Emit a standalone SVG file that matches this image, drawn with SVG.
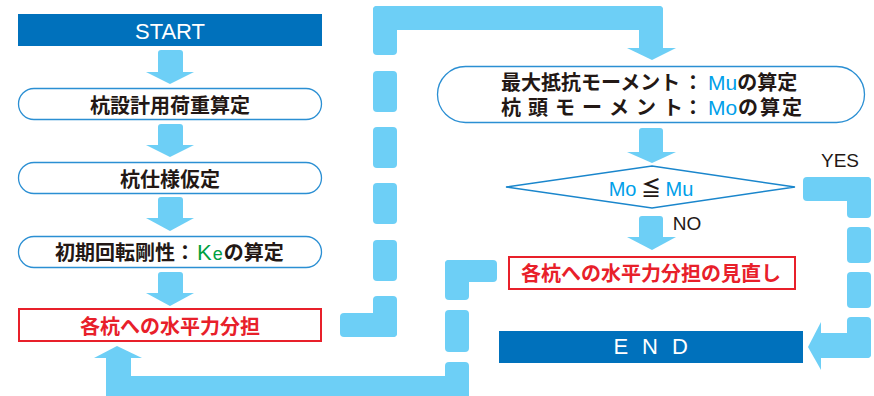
<svg xmlns="http://www.w3.org/2000/svg" width="874" height="396" viewBox="0 0 874 396">
<defs>
<style>
.lb{fill:#6dcff6}
.pill{fill:#fff;stroke:#2b8fd3;stroke-width:1.3}
.red{fill:#fff;stroke:#e8202a;stroke-width:2}
.bar{fill:#0071bc}
.jp{font-family:"Noto Sans CJK JP","Noto Sans",sans-serif;font-size:20px;font-weight:700;fill:#231815}
.rt{fill:#e8202a}
.lat{font-family:"Liberation Sans",Arial,sans-serif;font-weight:400}
.cy{fill:#00a0e9}
.gr{fill:#00a040}
.wt{font-family:"Liberation Sans",Arial,sans-serif;fill:#fff;font-size:22px}
.lab{font-family:"Liberation Sans",Arial,sans-serif;fill:#231815;font-size:19px}
</style>
</defs>
<rect width="874" height="396" fill="#fff"/>

<g id="connectors">
  <!-- left column down arrows -->
  <rect class="lb" x="158" y="50" width="25" height="26" rx="3"/>
  <polygon class="lb" points="146,72 194,72 170,84"/>
  <rect class="lb" x="158" y="124" width="25" height="25" rx="3"/>
  <polygon class="lb" points="146,145 194,145 170,157"/>
  <rect class="lb" x="158" y="197" width="25" height="25" rx="3"/>
  <polygon class="lb" points="146,218 194,218 170,231"/>
  <rect class="lb" x="158" y="272" width="25" height="25" rx="3"/>
  <polygon class="lb" points="146,293 194,293 170,306"/>

  <!-- dashed loop from 各杭への水平力分担 to top box -->
  <rect class="lb" x="373" y="6" width="24" height="49" rx="4"/>
  <rect class="lb" x="373" y="6" width="290" height="24" rx="4"/>
  <rect class="lb" x="639" y="6" width="24" height="46" rx="4"/>
  <polygon class="lb" points="627,48 676,48 652,60"/>
  <rect class="lb" x="373" y="71" width="24" height="41" rx="4"/>
  <rect class="lb" x="373" y="127" width="24" height="41" rx="4"/>
  <rect class="lb" x="373" y="183" width="24" height="41" rx="4"/>
  <rect class="lb" x="373" y="240" width="24" height="41" rx="4"/>
  <rect class="lb" x="373" y="296" width="24" height="41" rx="4"/>
  <rect class="lb" x="340" y="313" width="57" height="24" rx="4"/>

  <!-- right column down arrows -->
  <rect class="lb" x="639" y="128" width="24" height="28" rx="3"/>
  <polygon class="lb" points="627,152 676,152 652,163"/>
  <rect class="lb" x="639" y="216" width="24" height="25" rx="3"/>
  <polygon class="lb" points="627,237 676,237 652,250"/>

  <!-- YES path to END -->
  <rect class="lb" x="803" y="177" width="68" height="24" rx="4"/>
  <rect class="lb" x="847" y="177" width="24" height="41" rx="4"/>
  <rect class="lb" x="847" y="227" width="24" height="36" rx="4"/>
  <rect class="lb" x="847" y="272" width="24" height="36" rx="4"/>
  <rect class="lb" x="847" y="317" width="24" height="41" rx="4"/>
  <rect class="lb" x="816" y="333" width="55" height="25" rx="4"/>
  <polygon class="lb" points="821,322 808,347 821,370"/>

  <!-- NO path back to 各杭への水平力分担 -->
  <rect class="lb" x="445" y="260" width="52" height="22" rx="4"/>
  <rect class="lb" x="445" y="260" width="24" height="40" rx="4"/>
  <rect class="lb" x="445" y="310" width="24" height="42" rx="4"/>
  <rect class="lb" x="445" y="362" width="24" height="40" rx="4"/>
  <rect class="lb" x="106" y="376" width="363" height="26"/>
  <rect class="lb" x="106" y="356" width="25" height="40"/>
  <polygon class="lb" points="94,358 117,346 142,358"/>
</g>

<g id="start">
  <rect class="bar" x="18" y="14" width="304" height="32"/>
  <text class="wt" x="170" y="39" text-anchor="middle">START</text>
</g>

<g id="load">
  <rect class="pill" x="18.5" y="88.5" width="303" height="31" rx="15.5"/>
  <text class="jp" x="170" y="113" text-anchor="middle">杭設計用荷重算定</text>
</g>

<g id="spec">
  <rect class="pill" x="18.5" y="162.5" width="303" height="31" rx="15.5"/>
  <text class="jp" x="170" y="187" text-anchor="middle">杭仕様仮定</text>
</g>

<g id="ke">
  <rect class="pill" x="18.5" y="236.5" width="303" height="31" rx="15.5"/>
  <text class="jp" x="55" y="260">初期回転剛性：<tspan class="lat gr" dx="2" font-size="22">K</tspan><tspan class="lat gr" dx="1" font-size="18">e</tspan><tspan dx="1">の算定</tspan></text>
</g>

<g id="share">
  <rect class="red" x="19" y="309" width="302" height="32"/>
  <text class="jp rt" x="170" y="334" text-anchor="middle">各杭への水平力分担</text>
</g>

<g id="moment">
  <rect class="pill" x="437.5" y="66.5" width="427" height="56" rx="28"/>
  <text class="jp" x="501" y="90">最大抵抗モーメント<tspan x="683">：</tspan><tspan class="lat cy" dx="5" font-size="21">Mu</tspan><tspan>の算定</tspan></text>
  <text class="jp" y="115"><tspan x="501 528 555 582 609 636 663">杭頭モーメント</tspan><tspan x="683">：</tspan><tspan class="lat cy" dx="5" font-size="21">Mo</tspan><tspan x="738 760 782">の算定</tspan></text>
</g>

<g id="check">
  <polygon points="506,187 652,166 795,187 652,208" fill="#fff" stroke="#1a86cc" stroke-width="1.5"/>
  <text class="jp" x="651" y="196" text-anchor="middle" font-size="21"><tspan class="lat cy">Mo</tspan><tspan> ≦ </tspan><tspan class="lat cy">Mu</tspan></text>
  <text class="lab" x="840" y="167" text-anchor="middle">YES</text>
  <text class="lab" x="687" y="230" text-anchor="middle">NO</text>
</g>

<g id="review">
  <rect class="red" x="509" y="257" width="286" height="32"/>
  <text class="jp rt" x="651" y="281" text-anchor="middle">各杭への水平力分担の見直し</text>
</g>

<g id="end">
  <rect class="bar" x="499" y="331" width="304" height="32"/>
  <text class="wt" y="354" font-size="20"><tspan x="613.5">E</tspan><tspan x="642">N</tspan><tspan x="672">D</tspan></text>
</g>
</svg>
